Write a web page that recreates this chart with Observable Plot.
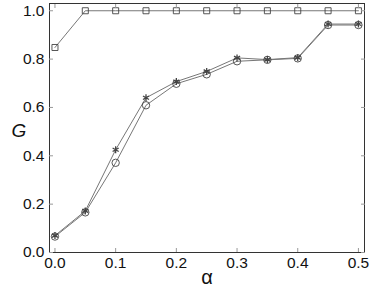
<!DOCTYPE html>
<html><head><meta charset="utf-8">
<script src="https://cdn.jsdelivr.net/npm/d3@7"></script>
<script src="https://cdn.jsdelivr.net/npm/@observablehq/plot@0.6"></script>
<style>body{margin:0;background:#fff;} svg{display:block;}</style>
</head><body><div id="chart"></div>
<script>
const alpha = [0.0, 0.05, 0.1, 0.15, 0.2, 0.25, 0.3, 0.35, 0.4, 0.45, 0.5];
const gSquare = [0.848, 1.0, 1.0, 1.0, 1.0, 1.0, 1.0, 1.0, 1.0, 1.0, 1.0];
const gStar = [0.07, 0.172, 0.425, 0.64, 0.707, 0.749, 0.805, 0.798, 0.806, 0.945, 0.945];
const gCircle = [0.066, 0.166, 0.371, 0.609, 0.698, 0.737, 0.791, 0.797, 0.803, 0.941, 0.941];
const xTicks = [0.0, 0.1, 0.2, 0.3, 0.4, 0.5];
const yTicks = [0.0, 0.2, 0.4, 0.6, 0.8, 1.0];

const series = [
  {name: "square", values: gSquare, symbol: "square", r: 3.4},
  {name: "star", values: gStar, symbol: "asterisk", r: 3.3},
  {name: "circle", values: gCircle, symbol: "circle", r: 3.7}
];
const data = series.flatMap(s => alpha.map((a, i) => ({a, g: s.values[i], s: s.name})));
const fmt = d3.format(".1f");
const blank = () => "";

const marks = [Plot.frame({stroke: "#333", strokeWidth: 1})];
for (const s of series) {
  const d = data.filter(e => e.s === s.name);
  marks.push(Plot.line(d, {x: "a", y: "g", stroke: "#777", strokeWidth: 1}));
}
for (const s of series) {
  const d = data.filter(e => e.s === s.name);
  marks.push(Plot.dot(d, {x: "a", y: "g", symbol: () => s.symbol, r: s.r, stroke: "#444", fill: "none", strokeWidth: s.symbol === "asterisk" ? 1.3 : 0.9}));
}
marks.push(
  Plot.axisX(xTicks, {anchor: "bottom", tickSize: -4, tickPadding: 8, tickFormat: fmt, fontSize: 15.5, stroke: "#999", label: null}),
  Plot.axisX(xTicks, {anchor: "top", tickSize: -4, tickFormat: blank, stroke: "#999", label: null}),
  Plot.axisY(yTicks, {anchor: "left", tickSize: -4, tickPadding: 9, tickFormat: fmt, fontSize: 15.5, stroke: "#999", label: null}),
  Plot.axisY(yTicks, {anchor: "right", tickSize: -4, tickFormat: blank, stroke: "#999", label: null}),
  Plot.text(["α"], {frameAnchor: "bottom", dy: 31, fontSize: 20, fill: "#111"}),
  Plot.text(["G"], {frameAnchor: "left", dx: -38, dy: 3, fontSize: 19, fontStyle: "italic", fill: "#111"})
);

const chart = Plot.plot({
  width: 371, height: 286,
  marginLeft: 49, marginRight: 7, marginTop: 3, marginBottom: 34,
  style: {fontFamily: "Liberation Sans, Arial, sans-serif", color: "#111", background: "white", overflow: "visible"},
  x: {domain: [-0.009, 0.51]},
  y: {domain: [0, 1.03]},
  marks
});
document.getElementById("chart").append(chart);
</script></body></html>
